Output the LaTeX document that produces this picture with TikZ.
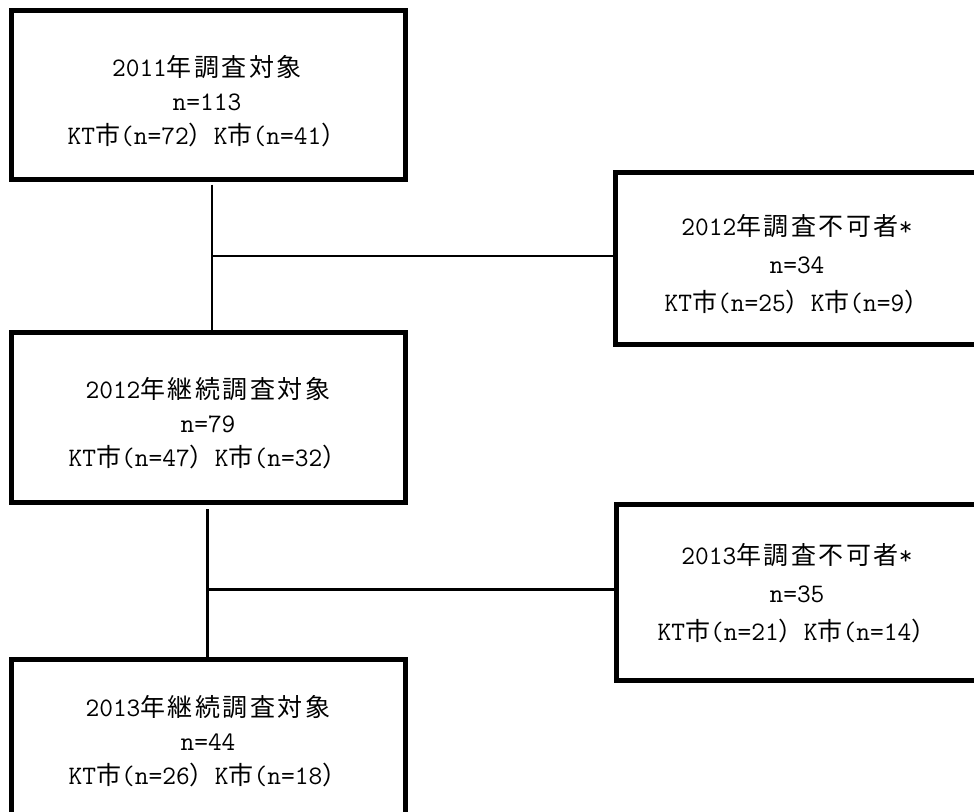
\documentclass[tikz,border=0pt]{standalone}
\usepackage{fontspec}
\newfontfamily\cjk[LetterSpace=10]{Noto Sans CJK JP}
\newcommand\J[1]{{\cjk\fontsize{18.75pt}{24pt}\selectfont #1}}
\begin{document}
\begin{tikzpicture}[x=0.75pt,y=-0.75pt,
  box/.style={draw=black, line width=3.75pt, inner sep=0pt},
  txt/.style={font=\ttfamily\fontsize{20pt}{25.5pt}\selectfont, align=center, inner sep=0pt},
  rtxt/.style={font=\ttfamily\fontsize{20pt}{28.5pt}\selectfont, align=center, inner sep=0pt},
  conn/.style={draw=black, line width=1.9pt}]
\useasboundingbox (0,0) rectangle (974,811);
% boxes
\node[box, minimum width=295.5pt, minimum height=126.4pt] (b1) at (208.5,94.75) {};
\node[box, minimum width=271.9pt, minimum height=129pt] (b2) at (797,258.5) {};
\node[box, minimum width=295.5pt, minimum height=127.5pt] (b3) at (208.5,417.5) {};
\node[box, minimum width=271.5pt, minimum height=132pt] (b4) at (797.5,592.5) {};
\node[box, minimum width=295.5pt, minimum height=115.9pt] (b5) at (208.5,736.75) {};
% texts
\node[txt] (t1) at (207,101) {2011\J{年調査対象}\\n=113\\KT\J{市}(n=72\J{）}K\J{市}(n=41\J{）}};
\node[rtxt] (t2) at (797,264) {2012\J{年調査不可者}*\\n=34\\KT\J{市}(n=25\J{）}K\J{市}(n=9\J{）}};
\node[txt] (t3) at (208,423) {2012\J{年継続調査対象}\\n=79\\KT\J{市}(n=47\J{）}K\J{市}(n=32\J{）}};
\node[rtxt] (t4) at (797,593) {2013\J{年調査不可者}*\\n=35\\KT\J{市}(n=21\J{）}K\J{市}(n=14\J{）}};
\node[txt] (t5) at (208,741) {2013\J{年継続調査対象}\\n=44\\KT\J{市}(n=26\J{）}K\J{市}(n=18\J{）}};
% connectors
\coordinate (j1) at (212,256);
\coordinate (j2) at (207.5,589.7);
\path (b1.south -| j1) ++(0,3) coordinate (s1);
\path (b3.south -| j2) ++(0,4) coordinate (s2);
\draw[conn] (s1) -- (b3.north -| j1);
\draw[conn] (j1) -- (b2.west |- j1);
\draw[conn] (s2) -- (b5.north -| j2);
\draw[conn] (j2) -- (b4.west |- j2);
\end{tikzpicture}
\end{document}
